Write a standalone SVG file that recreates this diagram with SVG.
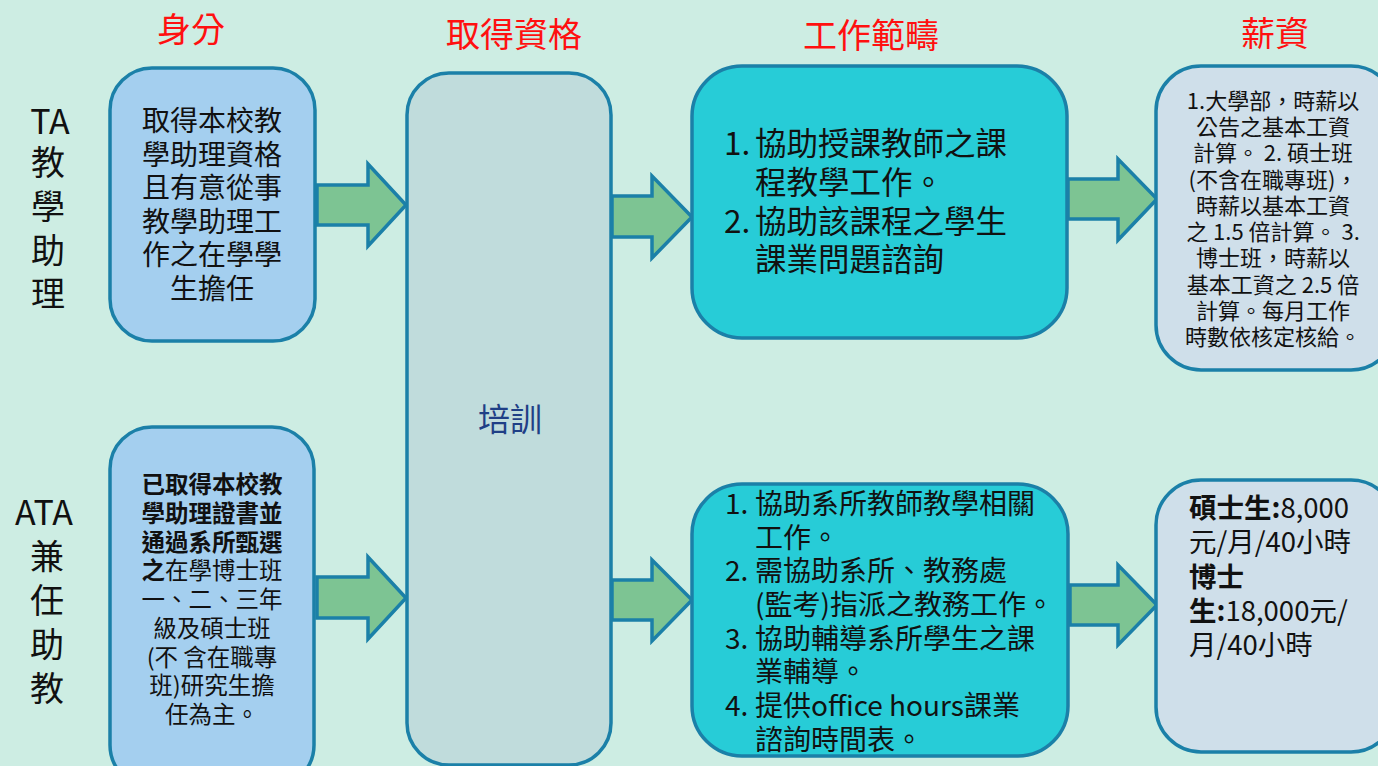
<svg xmlns="http://www.w3.org/2000/svg" width="1378" height="766" viewBox="0 0 1378 766">
<style>
.bg{fill:#CDEDE3}
.box{stroke:#1B80A8;stroke-width:3.5}
.id{fill:#A4CFEF}
.mid{fill:#C0DCDC}
.work{fill:#27CCD7}
.pay{fill:#CFDFEA}
.arr{fill:#7DC493;stroke:#1B80A8;stroke-width:3.5;stroke-linejoin:miter}
text{font-family:"Noto Sans CJK TC","Noto Sans",sans-serif;fill:#111}
.hd{fill:#FF1010;font-size:34px;text-anchor:middle}
.side{font-size:34px;text-anchor:middle}
.c{text-anchor:middle}
.b{font-weight:bold}
</style>
<rect class="bg" x="0" y="0" width="1378" height="766"/>
<g id="headers">
<text class="hd" x="191" y="42">身分</text>
<text class="hd" x="514" y="47">取得資格</text>
<text class="hd" x="871" y="48">工作範疇</text>
<text class="hd" x="1275" y="46">薪資</text>
</g>
<g id="label-ta">
<text class="side" x="50" y="134">TA</text>
<text class="side" x="48" y="175">教</text>
<text class="side" x="48" y="219">學</text>
<text class="side" x="48" y="263">助</text>
<text class="side" x="48" y="306">理</text>
</g>
<g id="label-ata">
<text class="side" x="44" y="525">ATA</text>
<text class="side" x="47" y="569">兼</text>
<text class="side" x="47" y="613">任</text>
<text class="side" x="47" y="657">助</text>
<text class="side" x="47" y="701">教</text>
</g>
<g id="connectors">
<polygon class="arr" points="317,185 368,185 368,164 406,205 368,246 368,225 317,225"/>
<polygon class="arr" points="317,577 368,577 368,557 406,598 368,639 368,618 317,618"/>
<polygon class="arr" points="612,196 652,196 652,176 692,217 652,258 652,237 612,237"/>
<polygon class="arr" points="612,580 652,580 652,560 692,600 652,641 652,620 612,620"/>
<polygon class="arr" points="1068,179 1118,179 1118,159 1157,199 1118,240 1118,219 1068,219"/>
<polygon class="arr" points="1070,585 1118,585 1118,565 1157,605 1118,645 1118,625 1070,625"/>
</g>
<g id="ta-identity">
<rect class="box id" x="110" y="68" width="205" height="273" rx="42"/>
<text class="c" x="212" y="131" font-size="28">取得本校教</text>
<text class="c" x="212" y="165" font-size="28">學助理資格</text>
<text class="c" x="212" y="198" font-size="28">且有意從事</text>
<text class="c" x="212" y="232" font-size="28">教學助理工</text>
<text class="c" x="212" y="265" font-size="28">作之在學學</text>
<text class="c" x="212" y="299" font-size="28">生擔任</text>
</g>
<g id="ata-identity">
<rect class="box id" x="110" y="427" width="204" height="360" rx="42"/>
<text class="c b" x="212" y="493" font-size="23.5">已取得本校教</text>
<text class="c b" x="212" y="522" font-size="23.5">學助理證書並</text>
<text class="c b" x="212" y="551" font-size="23.5">通過系所甄選</text>
<text class="c" x="212" y="579" font-size="23.5"><tspan class="b">之</tspan>在學博士班</text>
<text class="c" x="212" y="608" font-size="23.5">一、二、三年</text>
<text class="c" x="212" y="637" font-size="23.5">級及碩士班</text>
<text class="c" x="212" y="666" font-size="23.5">(不 含在職專</text>
<text class="c" x="212" y="694" font-size="23.5">班)研究生擔</text>
<text class="c" x="212" y="723" font-size="23.5">任為主。</text>
</g>
<g id="training">
<rect class="box mid" x="407" y="73" width="204" height="692" rx="42"/>
<text class="c" x="510" y="431" font-size="32" style="fill:#1F3F86">培訓</text>
</g>
<g id="ta-work">
<rect class="box work" x="692" y="66" width="375" height="272" rx="50"/>
<text x="724" y="155" font-size="31.5">1.</text>
<text x="755" y="155" font-size="31.5">協助授課教師之課</text>
<text x="755" y="194" font-size="31.5">程教學工作。</text>
<text x="724" y="233" font-size="31.5">2.</text>
<text x="755" y="233" font-size="31.5">協助該課程之學生</text>
<text x="755" y="271" font-size="31.5">課業問題諮詢</text>
</g>
<g id="ata-work">
<rect class="box work" x="692" y="484" width="376" height="272" rx="50"/>
<text x="725" y="514" font-size="28">1.</text>
<text x="755" y="514" font-size="28">協助系所教師教學相關</text>
<text x="755" y="548" font-size="28">工作。</text>
<text x="725" y="581" font-size="28">2.</text>
<text x="755" y="581" font-size="28">需協助系所、教務處</text>
<text x="755" y="615" font-size="28">(監考)指派之教務工作。</text>
<text x="725" y="649" font-size="28">3.</text>
<text x="755" y="649" font-size="28">協助輔導系所學生之課</text>
<text x="755" y="682" font-size="28">業輔導。</text>
<text x="725" y="716" font-size="28">4.</text>
<text x="755" y="716" font-size="28">提供office hours課業</text>
<text x="755" y="750" font-size="28">諮詢時間表。</text>
</g>
<g id="ta-pay">
<rect class="box pay" x="1156" y="66" width="240" height="304" rx="45"/>
<text class="c" x="1273" y="109" font-size="22">1.大學部，時薪以</text>
<text class="c" x="1273" y="135" font-size="22">公告之基本工資</text>
<text class="c" x="1273" y="161" font-size="22">計算。 2. 碩士班</text>
<text class="c" x="1273" y="188" font-size="22">(不含在職專班)，</text>
<text class="c" x="1273" y="214" font-size="22">時薪以基本工資</text>
<text class="c" x="1273" y="240" font-size="22">之 1.5 倍計算。 3.</text>
<text class="c" x="1273" y="266" font-size="22">博士班，時薪以</text>
<text class="c" x="1273" y="293" font-size="22">基本工資之 2.5 倍</text>
<text class="c" x="1273" y="319" font-size="22">計算。每月工作</text>
<text class="c" x="1273" y="345" font-size="22">時數依核定核給。</text>
</g>
<g id="ata-pay">
<rect class="box pay" x="1156" y="480" width="240" height="272" rx="45"/>
<text x="1189" y="518" font-size="27.5"><tspan class="b">碩士生:</tspan>8,000</text>
<text x="1189" y="552" font-size="27.5">元/月/40小時</text>
<text x="1189" y="587" font-size="27.5" class="b">博士</text>
<text x="1189" y="621" font-size="27.5"><tspan class="b">生:</tspan>18,000元/</text>
<text x="1189" y="655" font-size="27.5">月/40小時</text>
</g>
</svg>
